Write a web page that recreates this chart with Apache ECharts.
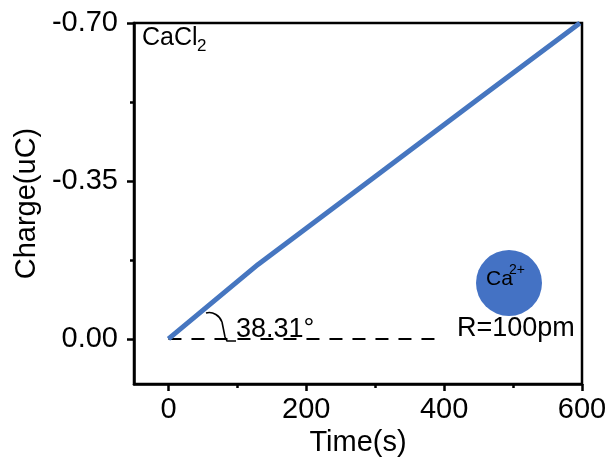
<!DOCTYPE html>
<html>
<head>
<meta charset="utf-8">
<script src="https://cdn.jsdelivr.net/npm/echarts@6/dist/echarts.min.js"></script>
<style>
html, body { margin: 0; padding: 0; background: #fff; }
#chart { width: 611px; height: 471px; }
</style>
</head>
<body>
<div id="chart"></div>
<script>
// values
const timeS = [0, 130, 300, 450, 597];
const chargeUC = [0, -0.165, -0.360, -0.532, -0.700];
const refTime = [0, 400];
const refCharge = [0, 0];
const xTicks = [0, 200, 400, 600];
const xMinor = [100, 300, 500];
const yTicks = [-0.70, -0.35, 0.00];
const yMinor = [-0.525, -0.175];

const FONT = 'Liberation Sans, Arial, sans-serif';
const BLUE = '#4676c0';

const chart = echarts.init(document.getElementById('chart'));

const mainLine = timeS.map((t, i) => [t, chargeUC[i]]);
const refLine = refTime.map((t, i) => [t, refCharge[i]]);

const option = {
    animation: false,
    grid: {
        left: 134, right: 29, top: 23, bottom: 87,
        show: true,
        borderColor: '#000',
        borderWidth: 2.5
    },
    xAxis: [
        {
            type: 'value',
            min: -50,
            max: 600,
            name: 'Time(s)',
            nameLocation: 'center',
            nameGap: 43,
            nameTextStyle: { fontSize: 29, fontFamily: FONT, color: '#000' },
            splitLine: { show: false },
            axisLine: { onZero: false, lineStyle: { color: '#000', width: 2.5 } },
            axisTick: { show: true, inside: false, length: 7, customValues: xTicks, lineStyle: { width: 2.5, color: '#000' } },
            axisLabel: { customValues: xTicks, margin: 11, fontSize: 29, fontFamily: FONT, color: '#000' }
        },
        {
            type: 'value',
            min: -50,
            max: 600,
            position: 'bottom',
            axisLine: { show: false, onZero: false },
            splitLine: { show: false },
            axisLabel: { show: false },
            axisTick: { show: true, length: 4, customValues: xMinor, lineStyle: { width: 2.5, color: '#000' } }
        }
    ],
    yAxis: [
        {
            type: 'value',
            inverse: true,
            min: -0.7,
            max: 0.1,
            name: 'Charge(uC)',
            nameLocation: 'center',
            nameGap: 88,
            nameTextStyle: { fontSize: 29, fontFamily: FONT, color: '#000' },
            splitLine: { show: false },
            axisLine: { onZero: false, lineStyle: { color: '#000', width: 2.5 } },
            axisTick: { show: true, inside: false, length: 7, customValues: yTicks, lineStyle: { width: 2.5, color: '#000' } },
            axisLabel: {
                customValues: yTicks,
                margin: 16,
                fontSize: 29,
                fontFamily: FONT,
                color: '#000',
                formatter: v => v.toFixed(2)
            }
        },
        {
            type: 'value',
            inverse: true,
            min: -0.7,
            max: 0.1,
            position: 'left',
            axisLine: { show: false, onZero: false },
            splitLine: { show: false },
            axisLabel: { show: false },
            axisTick: { show: true, length: 4, customValues: yMinor, lineStyle: { width: 2.5, color: '#000' } }
        }
    ],
    series: [
        {
            name: 'ref',
            type: 'line',
            data: refLine,
            showSymbol: false,
            lineStyle: { color: '#000', width: 2, type: [13, 10] },
            z: 1
        },
        {
            name: 'CaCl2',
            type: 'line',
            data: mainLine,
            showSymbol: false,
            lineStyle: { color: BLUE, width: 5 },
            z: 2
        }
    ],
    graphic: [
        { type: 'text', left: 142, top: 26, style: { text: 'CaCl', font: '25px ' + FONT, fill: '#000' } },
        { type: 'text', left: 197, top: 38, style: { text: '2', font: '17px ' + FONT, fill: '#000' } },
        { type: 'circle', shape: { cx: 509, cy: 283, r: 33 }, style: { fill: '#4472c4' } },
        { type: 'text', left: 486, top: 269, style: { text: 'Ca', font: '21px ' + FONT, fill: '#000' } },
        { type: 'text', left: 509, top: 263, style: { text: '2+', font: '14px ' + FONT, fill: '#000' } },
        { type: 'text', left: 457, top: 315, style: { text: 'R=100pm', font: '27px ' + FONT, fill: '#000' } },
        {
            type: 'bezierCurve',
            shape: { x1: 206, y1: 313, cpx1: 213, cpy1: 311, cpx2: 220, cpy2: 316, x2: 222, y2: 322 },
            style: { stroke: '#000', lineWidth: 1.6, fill: null }
        },
        {
            type: 'polyline',
            shape: { points: [[222, 322], [225, 337], [227, 341], [236, 341]] },
            style: { stroke: '#000', lineWidth: 1.6, fill: null }
        },
        { type: 'text', left: 236, top: 316, style: { text: '38.31°', font: '27px ' + FONT, fill: '#000' } }
    ]
};

chart.setOption(option);
</script>
</body>
</html>
